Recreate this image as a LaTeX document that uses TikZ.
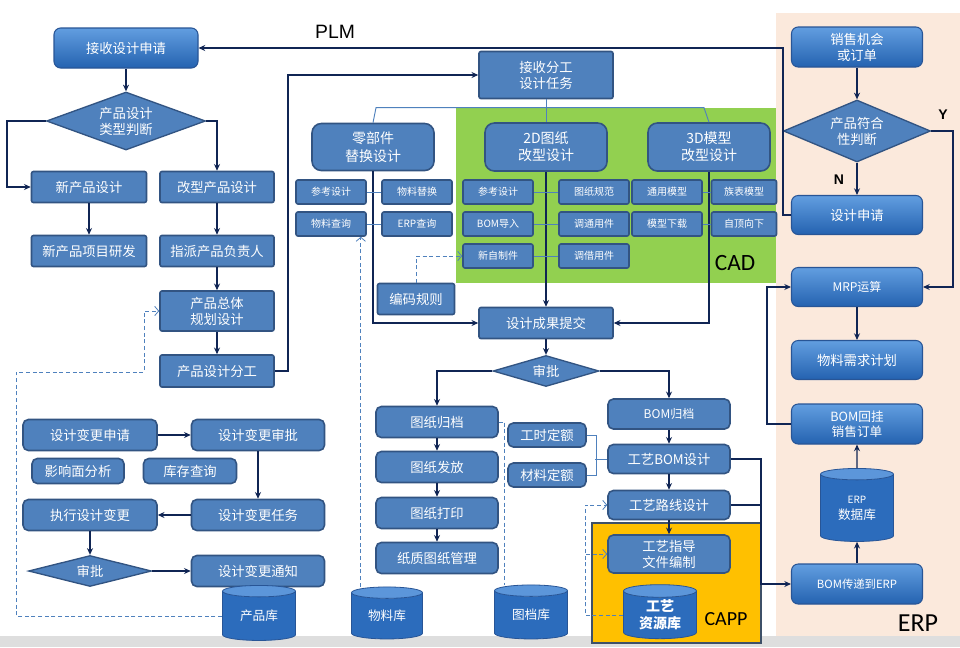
\documentclass[tikz,border=0pt]{standalone}
\usepackage{fontspec}
\setmainfont{Noto Sans CJK SC}
\newfontfamily\latinfont{Carlito}
\newfontfamily\arialfont{Liberation Sans}
\usetikzlibrary{shapes.geometric,arrows.meta}

\definecolor{boxblue}{RGB}{79,129,189}
\definecolor{boxedge}{RGB}{50,84,130}
\definecolor{flowline}{RGB}{16,37,84}
\definecolor{glosstop}{RGB}{98,158,224}
\definecolor{glossbot}{RGB}{36,98,176}
\definecolor{glossedge}{RGB}{40,85,150}
\definecolor{dbbody}{RGB}{44,108,188}
\definecolor{dbend}{RGB}{92,150,218}
\definecolor{cadgreen}{RGB}{146,208,80}
\definecolor{cappyellow}{RGB}{255,192,0}
\definecolor{cappedge}{RGB}{62,80,104}
\definecolor{erppeach}{RGB}{251,233,220}
\definecolor{stripgray}{RGB}{222,222,222}

\begin{document}
\begin{tikzpicture}[x=0.75pt,y=0.75pt,yscale=-1,xscale=1,
  box/.style 2 args={draw=boxedge,line width=1.2pt,fill=boxblue,text=white,minimum width=#1*0.75pt,minimum height=#2*0.75pt,inner sep=0pt,align=center,rounded corners=1.5pt,font=\fontsize{10}{12}\selectfont},
  rbox/.style 2 args={box={#1}{#2},rounded corners=4pt},
  tinybox/.style={box={70}{24},font=\fontsize{7.5}{9}\selectfont},
  gloss/.style 2 args={draw=glossedge,line width=0.8pt,top color=glosstop,bottom color=glossbot,text=white,minimum width=#1*0.75pt,minimum height=#2*0.75pt,inner sep=0pt,align=center,rounded corners=5pt,font=\fontsize{10}{12}\selectfont},
  decide/.style n args={3}{diamond,shape aspect=#3,draw=boxedge,line width=1pt,fill=boxblue,text=white,minimum width=#1*0.75pt,minimum height=#2*0.75pt,inner sep=0pt,align=center,font=\fontsize{10}{12}\selectfont},
  dbase/.style 2 args={cylinder,shape border rotate=90,aspect=0.3,cylinder uses custom fill,cylinder body fill=dbbody,cylinder end fill=dbend,draw=glossedge,line width=0.6pt,text=white,minimum width=#1*0.75pt,minimum height=#2*0.75pt,inner sep=0pt,align=center,font=\fontsize{9.5}{12}\selectfont},
  flow/.style={draw=flowline,line width=1.1pt,-{Stealth[length=5pt,width=4.5pt]}},
  link/.style={draw=boxblue,line width=0.7pt},
  hint/.style={draw=boxblue,line width=0.6pt,dash pattern=on 3pt off 2pt,-{Straight Barb[length=3pt,width=7pt]}}
]
\useasboundingbox (0,0) rectangle (960,647);
\fill[white] (0,0) rectangle (960,647);

%Areas
\fill[erppeach] (776,13) rectangle (960,636);
\fill[cadgreen] (456,108) rectangle (776,283);
\fill[stripgray] (0,636) rectangle (960,647);
\filldraw[fill=cappyellow,draw=cappedge,line width=1.5pt] (592,523) rectangle (761,643);

%PLM side
\node[gloss={144}{40}] (rcv) at (126,48) {接收设计申请};
\node[decide={159}{58}{2.7}] (kind) at (126,121) {产品设计\\类型判断};
\node[box={115}{31}] (newp) at (89,187) {新产品设计};
\node[box={114}{31}] (modp) at (217,187) {改型产品设计};
\node[box={115}{31}] (newdev) at (89,251) {新产品项目研发};
\node[box={114}{31}] (owner) at (217,251) {指派产品负责人};
\node[box={114}{40}] (plan) at (217,311) {产品总体\\规划设计};
\node[box={114}{32}] (split) at (217,371) {产品设计分工};

%Design change
\node[rbox={134}{31}] (chgreq) at (90,435) {设计变更申请};
\node[rbox={133}{31}] (chgok) at (258,435) {设计变更审批};
\node[rbox={92}{25}] (impact) at (78,471) {影响面分析};
\node[rbox={93}{25}] (stock) at (190,471) {库存查询};
\node[rbox={134}{31}] (chgdo) at (90,515) {执行设计变更};
\node[rbox={133}{31}] (chgtask) at (258,515) {设计变更任务};
\node[decide={123}{31}{4}] (chgchk) at (90,571) {审批};
\node[rbox={133}{31}] (chgnote) at (258,571) {设计变更通知};

%CAD
\node[box={134}{47}] (assign) at (546,75) {接收分工\\设计任务};
\node[box={122}{47},rounded corners=7pt,font=\fontsize{10.5}{13}\selectfont] (partsub) at (373,147) {零部件\\替换设计};
\node[box={122}{48},rounded corners=7pt,font=\fontsize{10.5}{13}\selectfont] (cad2d) at (546,147) {2D图纸\\改型设计};
\node[box={122}{48},rounded corners=7pt,font=\fontsize{10.5}{13}\selectfont] (cad3d) at (709,147) {3D模型\\改型设计};
\node[tinybox] (pref) at (331,192) {参考设计};
\node[tinybox] (pswap) at (417,192) {物料替换};
\node[tinybox] (pmat) at (331,224) {物料查询};
\node[tinybox] (perp) at (417,224) {ERP查询};
\node[tinybox] (dref) at (498,192) {参考设计};
\node[tinybox] (dnorm) at (594,192) {图纸规范};
\node[tinybox] (dbom) at (498,224) {BOM导入};
\node[tinybox] (dstd) at (594,224) {调通用件};
\node[tinybox] (dself) at (498,256) {新自制件};
\node[tinybox] (dborrow) at (594,256) {调借用件};
\node[tinybox] (mgen) at (667,192) {通用模型};
\node[tinybox,minimum width=65*0.75pt] (mfam) at (744,192) {族表模型};
\node[tinybox] (mload) at (667,224) {模型下载};
\node[tinybox,minimum width=65*0.75pt] (mtop) at (744,224) {自顶向下};
\node[box={77}{31}] (coding) at (416,299) {编码规则};
\node[box={134}{31}] (submit) at (546,323) {设计成果提交};
\node[decide={106}{31}{3.4}] (review) at (546,371) {审批};

%Drawings
\node[rbox={122}{31}] (darch) at (437,422) {图纸归档};
\node[rbox={122}{31}] (drel) at (437,467) {图纸发放};
\node[rbox={122}{31}] (dprint) at (437,513) {图纸打印};
\node[rbox={122}{31}] (dpaper) at (437,558) {纸质图纸管理};
\node[rbox={78}{24}] (hours) at (547,435) {工时定额};
\node[rbox={78}{24}] (mats) at (547,475) {材料定额};

%CAPP
\node[rbox={122}{30},font=\fontsize{9}{11}\selectfont] (bomarch) at (669,414) {BOM归档};
\node[rbox={122}{29}] (pbom) at (669,459) {工艺BOM设计};
\node[rbox={122}{29}] (proute) at (669,505) {工艺路线设计};
\node[rbox={122}{38}] (pguide) at (669,554) {工艺指导\\文件编制};

%Databases
\node[dbase={73}{55}] (proddb) at (259,616) {产品库};
\node[dbase={71}{52}] (matdb) at (387,616) {物料库};
\node[dbase={73}{54}] (drwdb) at (531,615) {图档库};
\node[dbase={73}{54},font=\bfseries\fontsize{10.5}{12.5}\selectfont] (resdb) at (660,615) {工艺\\资源库};
\node[dbase={73}{73}] (erpdb) at (857,508) {{\fontsize{7.5}{9}\selectfont ERP}\\数据库};

%ERP
\node[gloss={131}{40}] (sale) at (857,47) {销售机会\\或订单};
\node[decide={147}{62}{2.4}] (fit) at (857,131) {产品符合\\性判断};
\node[gloss={131}{39}] (dreq) at (857,215) {设计申请};
\node[gloss={131}{39},font=\fontsize{9}{11}\selectfont] (mrp) at (857,287) {MRP运算};
\node[gloss={131}{39}] (mplan) at (857,360) {物料需求计划};
\node[gloss={131}{40},font=\fontsize{9.5}{11.5}\selectfont] (bomso) at (857,424) {BOM回挂\\销售订单};
\node[gloss={131}{40},font=\fontsize{8.5}{10}\selectfont] (bomerp) at (857,584) {BOM传递到ERP};

% Text Node
\node[font=\arialfont\fontsize{14.5}{16}\selectfont] (plmtag) at (335,32) {PLM};
\node[font=\latinfont\fontsize{17.5}{20}\selectfont] (cadtag) at (735,263) {CAD};
\node[font=\latinfont\fontsize{15}{18}\selectfont] (capptag) at (726,619) {CAPP};
\node[font=\latinfont\fontsize{19.5}{22}\selectfont] (erptag) at (918,623) {ERP};
\node[font=\arialfont\bfseries\fontsize{10.5}{12}\selectfont] (ytag) at (943,115) {Y};
\node[font=\arialfont\bfseries\fontsize{10.5}{12}\selectfont] (ntag) at (839,180) {N};

%Flow lines
\draw[flow] (dreq.west) -- ++(-8,0) |- (rcv.east);
\draw[flow] (rcv) -- (kind);
\draw[flow] (kind.west) -- ++(-39,0) |- (newp.west);
\draw[flow] (kind.east) -| (modp.north);
\draw[flow] (newp) -- (newdev);
\draw[flow] (modp) -- (owner);
\draw[flow] (owner) -- (plan);
\draw[flow] (plan) -- (split);
\draw[flow] (split.east) -- ++(13,0) |- (assign.west);
\draw[flow] (partsub.south) |- (submit.west);
\draw[flow] (cad2d) -- (submit);
\draw[flow] (cad3d.south) |- (submit.east);
\draw[flow] (submit) -- (review);
\draw[flow] (review.west) -| (darch.north);
\draw[flow] (review.east) -| (bomarch.north);
\draw[flow] (darch) -- (drel);
\draw[flow] (drel) -- (dprint);
\draw[flow] (dprint) -- (dpaper);
\draw[flow] (bomarch) -- (pbom);
\draw[flow] (pbom) -- (proute);
\draw[flow] (proute) -- (pguide);
\draw[flow] (pbom.east) -- ++(30,0) |- (bomerp.west);
\draw[flow,-] (proute.east) -- ++(30,0);
\draw[flow] (bomerp) -- (erpdb);
\draw[flow] (erpdb) -- (bomso);
\draw[flow] (bomso.west) -- ++(-24,0) |- (mrp.west);
\draw[flow] (mrp) -- (mplan);
\draw[flow] (sale) -- (fit);
\draw[flow] (fit) -- (dreq);
\draw[flow] (fit.east) -- ++(22,0) |- (mrp.east);
\draw[flow] (chgreq) -- (chgok);
\draw[flow] (chgok) -- (chgtask);
\draw[flow] (chgtask) -- (chgdo);
\draw[flow] (chgdo) -- (chgchk);
\draw[flow] (chgchk) -- (chgnote);

%Thin links
\draw[link] (assign.south) -- (cad2d.north);
\draw[link] (partsub.north) -- ++(3,-15) coordinate (bar) -- ([xshift=-3.75pt]bar -| cad3d.north) -- (cad3d.north);
\draw[link] (pref) -- (pswap);
\draw[link] (pmat) -- (perp);
\draw[link] (dref) -- (dnorm);
\draw[link] (dbom) -- (dstd);
\draw[link] (dself) -- (dborrow);
\draw[link] (mgen) -- (mfam);
\draw[link] (mload) -- (mtop);
\draw[link] (hours.east) -- ++(10,0) |- (mats.east);
\draw[link] (pbom.west) -- ++(-12,0);

%Dashed hints
\draw[hint] (proddb.west) -- ++(-206,0) -- ++(0,-244) -- ++(128,0) |- (plan.west);
\draw[hint] ([xshift=-4.5pt]pmat.south east |- matdb.north) -- ([xshift=-4.5pt]pmat.south east);
\draw[hint,-] (darch.east) -- ++(6,0) coordinate (dk) -- (dk |- drwdb.north);
\draw[hint] (resdb.west) -- ++(-38,0) |- (proute.west);
\draw[hint] (resdb.west) -- ++(-38,0) |- (pguide.west);
\draw[hint] (coding.north) |- (dself.west);

\end{tikzpicture}
\end{document}
